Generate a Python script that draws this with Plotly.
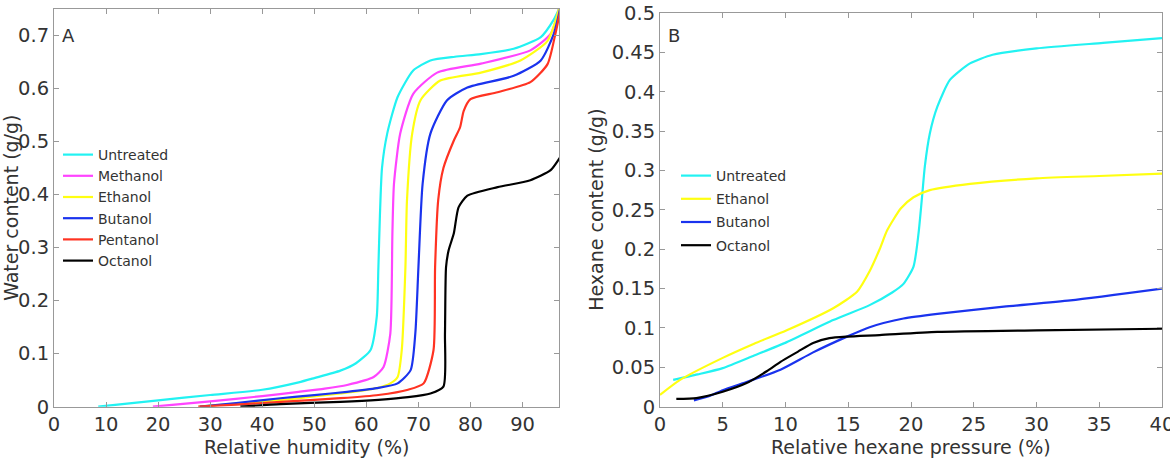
import plotly.graph_objects as go

# ---------------- Panel A: water sorption ----------------
rh_untreated = [8.5, 20, 30, 40, 47, 50, 55, 58, 60.8, 62, 62.3, 62.6, 63, 64, 66, 69, 72.3, 77, 82, 88.3, 93.5, 96, 97]
wc_untreated = [0.0, 0.012, 0.022, 0.032, 0.046, 0.054, 0.068, 0.082, 0.107, 0.17, 0.26, 0.36, 0.45, 0.515, 0.584, 0.634, 0.653, 0.66, 0.665, 0.675, 0.697, 0.73, 0.75]

rh_methanol = [19, 30, 40, 47, 52, 56.3, 61.4, 63.3, 64.6, 65, 65.3, 66.5, 69, 73.6, 82, 91.5, 95.4, 97]
wc_methanol = [0.0, 0.01, 0.02, 0.028, 0.034, 0.041, 0.056, 0.075, 0.138, 0.327, 0.42, 0.515, 0.59, 0.63, 0.647, 0.672, 0.703, 0.75]

rh_ethanol = [28, 35, 45, 55, 62, 64.6, 66, 66.8, 67.5, 67.8, 68.8, 70.4, 74.2, 82, 89.6, 94.8, 97]
wc_ethanol = [0.0, 0.006, 0.014, 0.025, 0.035, 0.044, 0.056, 0.107, 0.263, 0.389, 0.515, 0.578, 0.615, 0.63, 0.653, 0.69, 0.75]

rh_butanol = [28, 35, 43.5, 50, 56.3, 62, 66, 68.5, 69.4, 70, 70.8, 72.3, 75.5, 79.4, 88.3, 93.5, 96, 97.2]
wc_butanol = [0.0, 0.007, 0.016, 0.022, 0.028, 0.035, 0.044, 0.069, 0.138, 0.263, 0.42, 0.515, 0.578, 0.602, 0.624, 0.653, 0.703, 0.75]

rh_pentanol = [27.7, 35, 43.5, 55, 62.3, 68, 71, 72.9, 73.2, 73.8, 74.8, 76.8, 78, 78.7, 80, 85.2, 91.5, 94.8, 96.3, 97.3]
wc_pentanol = [0.0, 0.004, 0.009, 0.016, 0.022, 0.032, 0.044, 0.107, 0.263, 0.39, 0.45, 0.502, 0.527, 0.558, 0.58, 0.593, 0.612, 0.646, 0.703, 0.75]

rh_octanol = [35.8, 43.5, 55, 62.3, 68, 72.3, 74.8, 75.1, 75.3, 75.8, 76.8, 77.7, 79.4, 85.2, 91.5, 95.4, 97.2]
wc_octanol = [0.0, 0.005, 0.009, 0.013, 0.018, 0.025, 0.038, 0.138, 0.263, 0.295, 0.327, 0.376, 0.398, 0.414, 0.427, 0.446, 0.47]

# ---------------- Panel B: hexane sorption ----------------
hp_untreated = [1.05, 3, 5, 7.5, 10.1, 13.8, 16.7, 18.5, 19.4, 20.2, 20.6, 20.9, 21.1, 21.5, 22.1, 23.1, 24.7, 26.5, 30, 35.3, 40]
hc_untreated = [0.034, 0.041, 0.049, 0.065, 0.082, 0.11, 0.129, 0.145, 0.156, 0.178, 0.22, 0.27, 0.305, 0.347, 0.381, 0.415, 0.436, 0.447, 0.455, 0.462, 0.468]

hp_ethanol = [0, 1.6, 5, 7.5, 10.1, 13.8, 15.7, 16.7, 17.5, 18.1, 19.2, 20.2, 21.5, 24.7, 30, 35, 40]
hc_ethanol = [0.015, 0.034, 0.062, 0.08, 0.097, 0.125, 0.146, 0.172, 0.2, 0.224, 0.252, 0.266, 0.275, 0.283, 0.29, 0.293, 0.296]

hp_butanol = [2.7, 4, 5, 7, 9.6, 12.2, 14.9, 16.7, 19.4, 22.1, 27.4, 32.7, 40]
hc_butanol = [0.008, 0.014, 0.021, 0.032, 0.047, 0.069, 0.089, 0.101, 0.112, 0.118, 0.127, 0.135, 0.15]

hp_octanol = [1.3, 2.9, 5, 6.9, 8.5, 9.6, 11, 12.2, 13.5, 14.9, 17.5, 22.1, 30, 40]
hc_octanol = [0.01, 0.011, 0.019, 0.03, 0.045, 0.057, 0.07, 0.081, 0.087, 0.089, 0.091, 0.095, 0.097, 0.099]

CYAN, MAGENTA, YELLOW, BLUE, RED, BLACK = "#22f2f2", "#ff44ff", "#ffff11", "#1a33ee", "#ff3322", "#000000"

fig = go.Figure()

panel_a = [("Untreated", rh_untreated, wc_untreated, CYAN),
           ("Methanol", rh_methanol, wc_methanol, MAGENTA),
           ("Ethanol", rh_ethanol, wc_ethanol, YELLOW),
           ("Butanol", rh_butanol, wc_butanol, BLUE),
           ("Pentanol", rh_pentanol, wc_pentanol, RED),
           ("Octanol", rh_octanol, wc_octanol, BLACK)]
for name, x, y, c in panel_a:
    fig.add_trace(go.Scatter(x=x, y=y, name=name, mode="lines",
                             line=dict(color=c, width=2.2, shape="spline", smoothing=0.6),
                             xaxis="x", yaxis="y", legend="legend"))

panel_b = [("Untreated", hp_untreated, hc_untreated, CYAN),
           ("Ethanol", hp_ethanol, hc_ethanol, YELLOW),
           ("Butanol", hp_butanol, hc_butanol, BLUE),
           ("Octanol", hp_octanol, hc_octanol, BLACK)]
for name, x, y, c in panel_b:
    fig.add_trace(go.Scatter(x=x, y=y, name=name, mode="lines", legendgroup="b" + name,
                             line=dict(color=c, width=2.2, shape="spline", smoothing=0.6),
                             xaxis="x2", yaxis="y2", legend="legend2"))

FONT = "DejaVu Sans, Verdana, sans-serif"
TXT = "#333333"
FS = 19.5
FT = 19
axis_common = dict(showline=True, linecolor="#999999", linewidth=1, mirror="ticks",
                   ticks="inside", ticklen=5, tickcolor="#999999", showgrid=False,
                   zeroline=False, automargin=False, ticklabeloverflow="allow",
                   tickfont=dict(size=FS, color=TXT, family=FONT))

W, H = 1170, 458
A_L, A_R, B_L, B_R = 54, 559, 660, 1162
BOT, A_TOP, B_TOP = 406.7, 9, 13


def title(text, xpx, ypx, angle=0):
    return dict(text=text, x=xpx / W, y=(H - ypx) / H, xref="paper", yref="paper",
                xanchor="center", yanchor="middle", textangle=angle, showarrow=False,
                borderpad=0, font=dict(size=FT, color=TXT, family=FONT))


fig.update_layout(
    width=W, height=H, margin=dict(l=0, r=0, t=0, b=0),
    paper_bgcolor="white", plot_bgcolor="white",
    font=dict(family=FONT, color=TXT),
    xaxis=dict(domain=[A_L / W, A_R / W], range=[0, 97], tickvals=list(range(0, 100, 10)),
               anchor="y", **axis_common),
    yaxis=dict(domain=[(H - BOT) / H, (H - A_TOP) / H], range=[0, 0.75],
               tickvals=[0, 0.1, 0.2, 0.3, 0.4, 0.5, 0.6, 0.7],
               ticktext=["0", "0.1", "0.2", "0.3", "0.4", "0.5", "0.6", "0.7"],
               anchor="x", **axis_common),
    xaxis2=dict(domain=[B_L / W, B_R / W], range=[0, 40], tickvals=list(range(0, 45, 5)),
                anchor="y2", **axis_common),
    yaxis2=dict(domain=[(H - BOT) / H, (H - B_TOP) / H], range=[0, 0.5],
                tickvals=[0, 0.05, 0.1, 0.15, 0.2, 0.25, 0.3, 0.35, 0.4, 0.45, 0.5],
                ticktext=["0", "0.05", "0.1", "0.15", "0.2", "0.25", "0.3", "0.35", "0.4", "0.45", "0.5"],
                anchor="x2", **axis_common),
    legend=dict(x=58 / W, y=(H - 139) / H, xanchor="left", yanchor="top",
                bgcolor="rgba(0,0,0,0)", font=dict(size=14, color=TXT, family=FONT),
                tracegroupgap=0, itemwidth=30),
    legend2=dict(x=676 / W, y=(H - 160) / H, xanchor="left", yanchor="top",
                 bgcolor="rgba(0,0,0,0)", font=dict(size=14, color=TXT, family=FONT),
                 tracegroupgap=2, itemwidth=30),
    annotations=[
        dict(text="A", x=1.2, y=0.7, xref="x", yref="y", xanchor="left", yanchor="middle",
             showarrow=False, font=dict(size=18, color=TXT, family=FONT)),
        dict(text="B", x=0.5, y=0.471, xref="x2", yref="y2", xanchor="left", yanchor="middle",
             showarrow=False, font=dict(size=18, color=TXT, family=FONT)),
        title("Relative humidity (%)", (A_L + A_R) / 2, 446.5),
        title("Relative hexane pressure (%)", (B_L + B_R) / 2, 446.5),
        title("Water content (g/g)", 11, (A_TOP + BOT) / 2, -90),
        title("Hexane content (g/g)", 596, (B_TOP + BOT) / 2, -90),
    ],
)

fig.write_html("out.html", config={"displayModeBar": False},
               post_script="document.body.style.margin='0';document.body.style.overflow='hidden';")
